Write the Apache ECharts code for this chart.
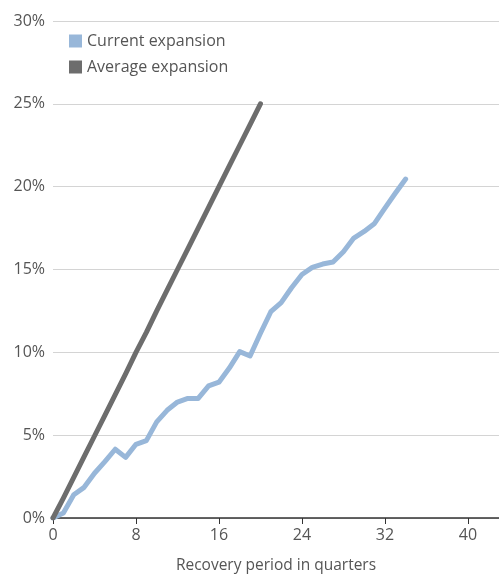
<!DOCTYPE html>
<html><head><meta charset="utf-8">
<script src="https://cdn.jsdelivr.net/npm/echarts@6/dist/echarts.min.js"></script>
<style>html,body{margin:0;padding:0;background:#fff}#c{width:499px;height:576px}</style>
</head><body><div id="c"></div>
<script>
var quarters = [];
for (var i = 0; i <= 34; i++) quarters.push(i);
var currentExpansion = [0, 0.3, 1.4, 1.85, 2.7, 3.4, 4.15, 3.66, 4.45, 4.67, 5.8, 6.5, 7.0, 7.22, 7.22, 7.97, 8.2, 9.05, 10.04, 9.78, 11.15, 12.45, 13.0, 13.9, 14.7, 15.13, 15.33, 15.45, 16.07, 16.9, 17.3, 17.78, 18.7, 19.6, 20.46];
var averageExpansion = [0, 1.2, 2.45, 3.7, 4.95, 6.2, 7.45, 8.7, 10.0, 11.2, 12.5, 13.75, 15.0, 16.25, 17.5, 18.75, 20.0, 21.25, 22.5, 23.75, 25.0];
var yTicks = [0, 5, 10, 15, 20, 25, 30];
var xTicks = [0, 8, 16, 24, 32, 40];

function pairs(vals){ return vals.map(function(v,i){ return [quarters[i], v]; }); }

var chart = echarts.init(document.getElementById('c'));
var font = 'Open Sans';
chart.setOption({
  animation: false,
  textStyle: {fontFamily: font},
  grid: {left: 53, right: 0, top: 21, bottom: 58, outerBoundsMode: 'none', containLabel: false},
  legend: {
    left: 64, top: 28, orient: 'vertical', itemGap: 10,
    itemWidth: 13, itemHeight: 13, icon: 'rect',
    textStyle: {fontSize: 16, color: '#555', fontFamily: font},
    data: ['Current expansion', 'Average expansion']
  },
  xAxis: {
    type: 'value', min: 0, max: 43, interval: 8,
    name: 'Recovery period in quarters', nameLocation: 'middle', nameGap: 40,
    nameTextStyle: {fontSize: 15.5, color: '#555'},
    axisLine: {lineStyle: {color: '#333', width: 1.5}},
    axisTick: {show: true, length: 6, lineStyle: {color: '#333'}, customValues: xTicks},
    axisLabel: {fontSize: 16, color: '#555', margin: 9, customValues: xTicks},
    splitLine: {show: false}
  },
  yAxis: {
    type: 'value', min: 0, max: 30, interval: 5,
    axisLine: {show: false}, axisTick: {show: false},
    axisLabel: {fontSize: 16, color: '#555', margin: 8, formatter: function(v){ return v + '%'; }},
    splitLine: {lineStyle: {color: '#d4d4d4', width: 1}}
  },
  series: [
    {name: 'Current expansion', type: 'line', data: pairs(currentExpansion), showSymbol: false, symbol: 'none',
     itemStyle: {color: '#98b7d9'}, lineStyle: {color: '#98b7d9', width: 5, join: 'round', cap: 'round'}},
    {name: 'Average expansion', type: 'line', data: pairs(averageExpansion), showSymbol: false, symbol: 'none',
     itemStyle: {color: '#6d6d6d'}, lineStyle: {color: '#6d6d6d', width: 5, join: 'round', cap: 'round'}}
  ]
});
</script></body></html>
